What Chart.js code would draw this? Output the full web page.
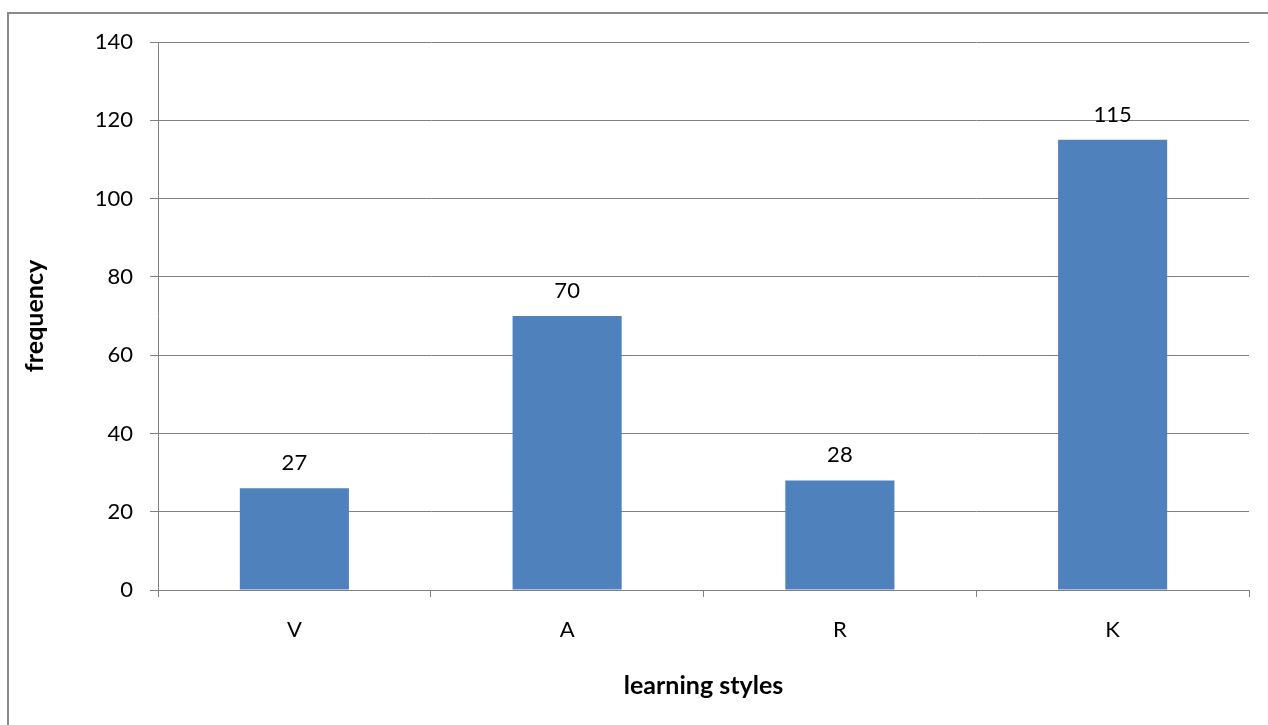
<!DOCTYPE html>
<html>
<head>
<meta charset="utf-8">
<script src="https://cdn.jsdelivr.net/npm/chart.js@4"></script>
<style>
  html, body { margin: 0; padding: 0; background: #ffffff; }
  canvas { display: block; }
</style>
</head>
<body>
<canvas id="c" width="1268" height="725"></canvas>
<script>
const categories = ["V", "A", "R", "K"];
const frequencies = [26, 70, 28, 115];
const valueLabels = ["27", "70", "28", "115"];
const yTicks = [0, 20, 40, 60, 80, 100, 120, 140];

const FONT = "Lato, 'Open Sans', sans-serif";
const GRAY = "#808080";

const framePlugin = {
  id: "frame",
  beforeDraw(chart) {
    const ctx = chart.ctx;
    ctx.save();
    ctx.fillStyle = "#ffffff";
    ctx.fillRect(0, 0, chart.width, chart.height);
    ctx.strokeStyle = "#8a8a8a";
    ctx.lineWidth = 2;
    ctx.beginPath();
    ctx.moveTo(8, chart.height + 5);
    ctx.lineTo(8, 13);
    ctx.lineTo(chart.width + 5, 13);
    ctx.stroke();
    ctx.restore();
  }
};

const valueLabelPlugin = {
  id: "valueLabels",
  afterDatasetsDraw(chart) {
    const ctx = chart.ctx;
    const meta = chart.getDatasetMeta(0);
    ctx.save();
    ctx.fillStyle = "#000000";
    ctx.font = "22px " + FONT;
    ctx.textAlign = "center";
    ctx.textBaseline = "middle";
    meta.data.forEach((bar, i) => {
      ctx.fillText(valueLabels[i], bar.x, bar.y - 25);
    });
    ctx.restore();
  }
};

new Chart(document.getElementById("c"), {
  type: "bar",
  data: {
    labels: categories,
    datasets: [{
      data: frequencies,
      backgroundColor: "#4F81BD",
      borderWidth: 0,
      barPercentage: 0.4,
      categoryPercentage: 1.0
    }]
  },
  options: {
    responsive: false,
    devicePixelRatio: 1,
    animation: false,
    layout: { padding: { left: 20, top: 42, right: 19, bottom: 24 } },
    plugins: {
      legend: { display: false },
      tooltip: { enabled: false },
      title: { display: false }
    },
    scales: {
      x: {
        offset: true,
        grid: {
          offset: true,
          drawOnChartArea: false,
          drawTicks: true,
          tickLength: 7,
          color: GRAY,
          lineWidth: 1
        },
        border: { display: true, color: GRAY, width: 1 },
        ticks: { color: "#000000", font: { family: FONT, size: 22 }, padding: 20 },
        title: {
          display: true,
          text: "learning styles",
          color: "#000000",
          font: { family: FONT, size: 25, weight: "bold" },
          padding: 0
        },
        afterFit(scale) { scale.height = 111; }
      },
      y: {
        min: 0,
        max: 140,
        afterBuildTicks(scale) { scale.ticks = yTicks.map(v => ({ value: v })); },
        grid: {
          color: GRAY,
          lineWidth: 1,
          drawTicks: true,
          tickLength: 8
        },
        border: { display: true, color: GRAY, width: 1 },
        ticks: { color: "#000000", font: { family: FONT, size: 22 }, padding: 17 },
        title: {
          display: true,
          text: "frequency",
          color: "#000000",
          font: { family: FONT, size: 25, weight: "bold" },
          padding: 0
        },
        afterFit(scale) { scale.width = 138; }
      }
    }
  },
  plugins: [framePlugin, valueLabelPlugin]
});
</script>
</body>
</html>
